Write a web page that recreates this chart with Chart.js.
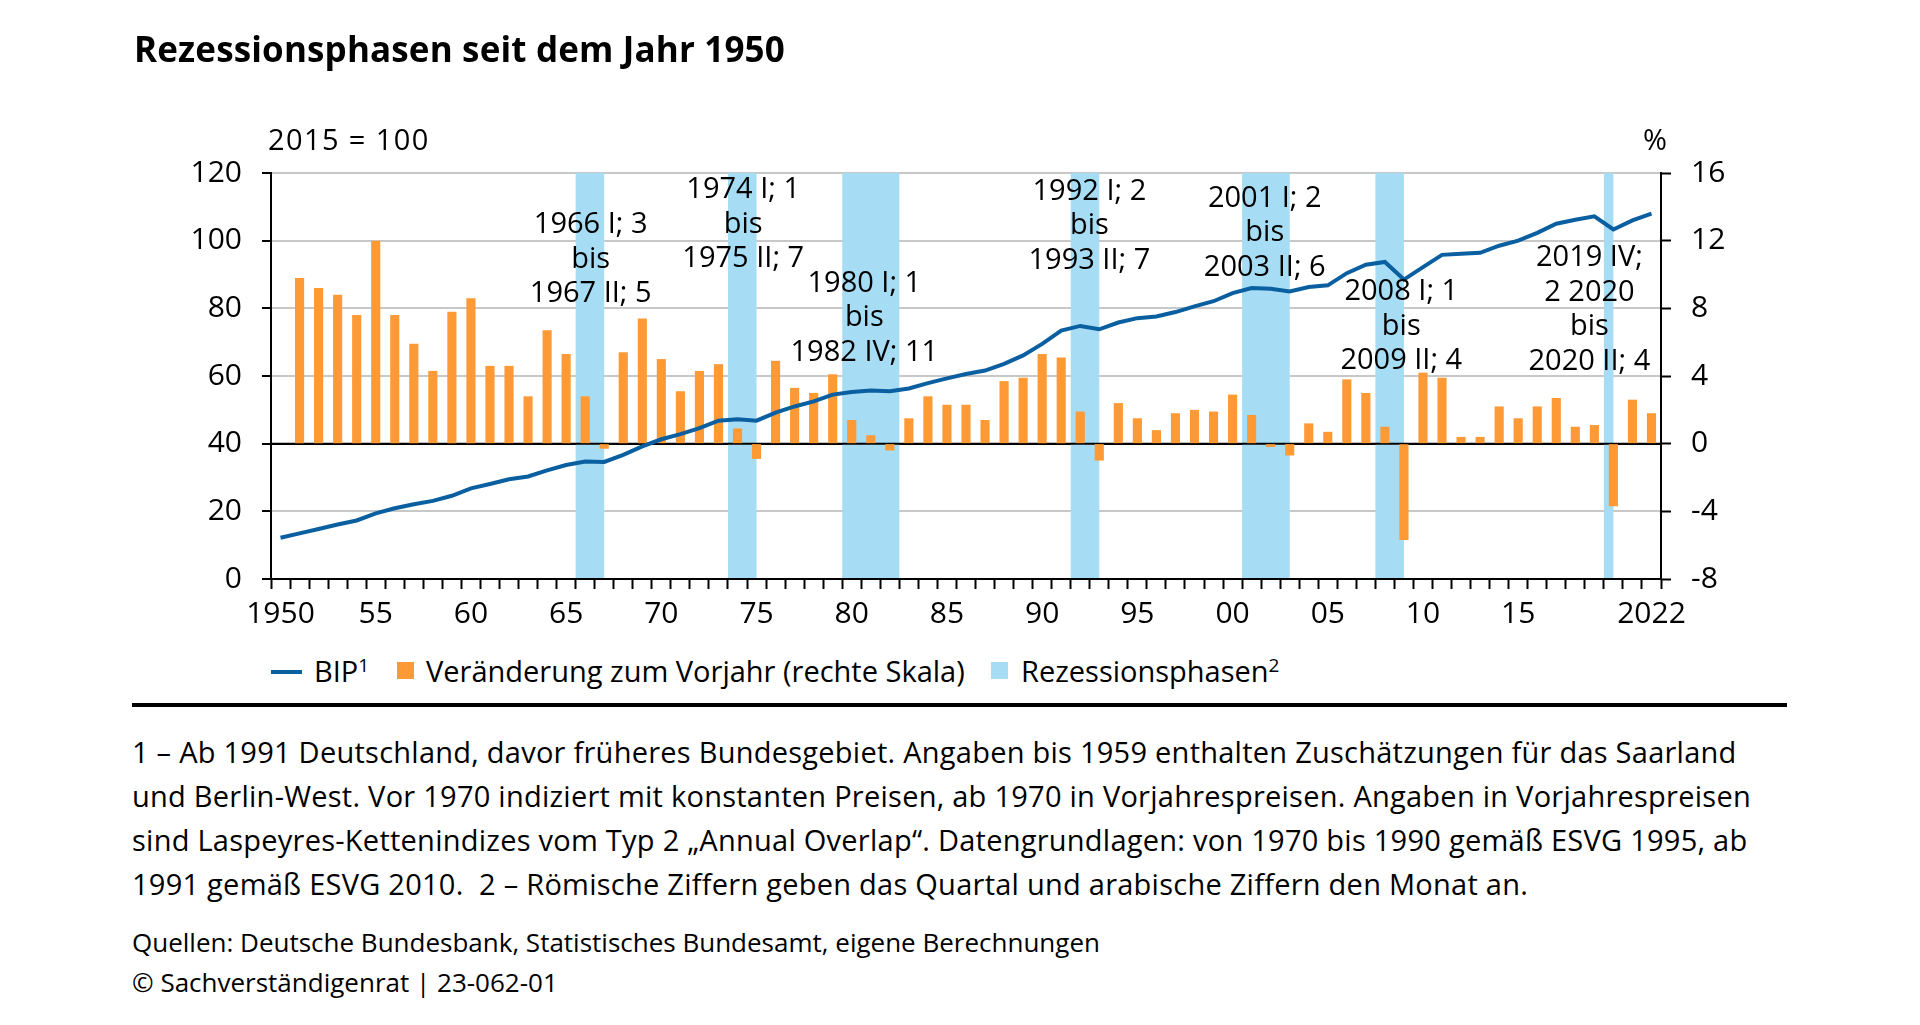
<!DOCTYPE html>
<html lang="de">
<head>
<meta charset="utf-8">
<title>Rezessionsphasen seit dem Jahr 1950</title>
<script src="https://cdn.jsdelivr.net/npm/chart.js@4.4.1/dist/chart.umd.min.js"></script>
<style>
  body { margin: 0; background: #fff; color: #000; font-family: "Open Sans", sans-serif; }
  #wrap { position: relative; width: 1920px; height: 1025px; overflow: hidden; }
  #chart { position: absolute; left: 0; top: 0; }
  .t { position: absolute; white-space: pre; line-height: 1; }
  #title { left: 134px; top: 31px; font-size: 35px; font-weight: bold; letter-spacing: 0.15px; }
  #unitL { left: 268px; top: 124px; font-size: 29px; letter-spacing: 1.4px; }
  #unitR { left: 1643px; top: 124px; font-size: 29px; }
  .lg { top: 656px; font-size: 29px; }
  .sup { font-size: 19px; position: relative; top: -10px; }
  .sw { position: absolute; }
  #rule { position: absolute; left: 132px; top: 703px; width: 1655px; height: 4px; background: #000; }
  #notes { left: 132px; top: 730px; font-size: 29px; line-height: 44px; letter-spacing: 0.25px; }
  #src { left: 132px; top: 922px; font-size: 26px; line-height: 40px; }
</style>
</head>
<body>
<div id="wrap">
  <canvas id="chart" width="1920" height="640"></canvas>
  <div class="t" id="title">Rezessionsphasen seit dem Jahr 1950</div>
  <div class="t" id="unitL">2015 = 100</div>
  <div class="t" id="unitR">%</div>

  <div class="sw" style="left:271px; top:670px; width:31px; height:4px; background:#0a5fa0"></div>
  <div class="t lg" style="left:314px">BIP<span class="sup">1</span></div>
  <div class="sw" style="left:397px; top:662px; width:17px; height:17px; background:#fd9a36"></div>
  <div class="t lg" style="left:426px">Veränderung zum Vorjahr (rechte Skala)</div>
  <div class="sw" style="left:991px; top:662px; width:17px; height:17px; background:#a6ddf5"></div>
  <div class="t lg" style="left:1021px">Rezessionsphasen<span class="sup">2</span></div>

  <div id="rule"></div>
  <div class="t" id="notes">1 – Ab 1991 Deutschland, davor früheres Bundesgebiet. Angaben bis 1959 enthalten Zuschätzungen für das Saarland
und Berlin-West. Vor 1970 indiziert mit konstanten Preisen, ab 1970 in Vorjahrespreisen. Angaben in Vorjahrespreisen
sind Laspeyres-Kettenindizes vom Typ 2 „Annual Overlap“. Datengrundlagen: von 1970 bis 1990 gemäß ESVG 1995, ab
1991 gemäß ESVG 2010.  2 – Römische Ziffern geben das Quartal und arabische Ziffern den Monat an.</div>
  <div class="t" id="src">Quellen: Deutsche Bundesbank, Statistisches Bundesamt, eigene Berechnungen
© Sachverständigenrat | 23-062-01</div>
</div>

<script>
// years on the x axis
const years = [
  1950, 1951, 1952, 1953, 1954, 1955, 1956, 1957, 1958, 1959,
  1960, 1961, 1962, 1963, 1964, 1965, 1966, 1967, 1968, 1969,
  1970, 1971, 1972, 1973, 1974, 1975, 1976, 1977, 1978, 1979,
  1980, 1981, 1982, 1983, 1984, 1985, 1986, 1987, 1988, 1989,
  1990, 1991, 1992, 1993, 1994, 1995, 1996, 1997, 1998, 1999,
  2000, 2001, 2002, 2003, 2004, 2005, 2006, 2007, 2008, 2009,
  2010, 2011, 2012, 2013, 2014, 2015, 2016, 2017, 2018, 2019,
  2020, 2021, 2022
];

// BIP, 2015 = 100 (left scale)
const bip = [
  12.2, 13.5, 14.8, 16.1, 17.3, 19.4, 20.9, 22.1, 23.1, 24.6,
  26.8, 28.1, 29.5, 30.3, 32.1, 33.7, 34.7, 34.6, 36.7, 39.2,
  41.3, 42.8, 44.6, 46.8, 47.2, 46.8, 49.2, 51.0, 52.5, 54.5,
  55.3, 55.7, 55.5, 56.3, 57.9, 59.3, 60.6, 61.6, 63.6, 66.1,
  69.5, 73.4, 74.8, 73.8, 75.8, 77.1, 77.6, 78.9, 80.6, 82.1,
  84.5, 86.0, 85.8, 85.0, 86.3, 86.8, 90.4, 92.9, 93.7, 88.5,
  92.2, 95.8, 96.1, 96.4, 98.5, 100.0, 102.3, 105.0, 106.2, 107.2,
  103.3, 106.0, 108.0
];

// Veränderung zum Vorjahr in % (right scale)
const change = [
  null, 9.8, 9.2, 8.8, 7.6, 12.0, 7.6, 5.9, 4.3, 7.8,
  8.6, 4.6, 4.6, 2.8, 6.7, 5.3, 2.8, -0.3, 5.4, 7.4,
  5.0, 3.1, 4.3, 4.7, 0.9, -0.9, 4.9, 3.3, 3.0, 4.1,
  1.4, 0.5, -0.4, 1.5, 2.8, 2.3, 2.3, 1.4, 3.7, 3.9,
  5.3, 5.1, 1.9, -1.0, 2.4, 1.5, 0.8, 1.8, 2.0, 1.9,
  2.9, 1.7, -0.2, -0.7, 1.2, 0.7, 3.8, 3.0, 1.0, -5.7,
  4.2, 3.9, 0.4, 0.4, 2.2, 1.5, 2.2, 2.7, 1.0, 1.1,
  -3.7, 2.6, 1.8
];

// recession phases, start and end as fractional years
const recStart = [1966.0, 1974.0, 1980.0, 1992.0, 2001.0, 2008.0, 2020.0];
const recEnd   = [1967.5, 1975.5, 1983.0, 1993.5, 2003.5, 2009.5, 2020.5];
const recLabels = [
  ['1966 I; 3', 'bis', '1967 II; 5'],
  ['1974 I; 1', 'bis', '1975 II; 7'],
  ['1980 I; 1', 'bis', '1982 IV; 11'],
  ['1992 I; 2', 'bis', '1993 II; 7'],
  ['2001 I; 2', 'bis', '2003 II; 6'],
  ['2008 I; 1', 'bis', '2009 II; 4'],
  ['2019 IV;', '2 2020', 'bis', '2020 II; 4']
];

// tick labels
const tickYears = [1950, 1955, 1960, 1965, 1970, 1975, 1980, 1985, 1990, 1995, 2000, 2005, 2010, 2015, 2022];
const tickTexts = ['1950', '55', '60', '65', '70', '75', '80', '85', '90', '95', '00', '05', '10', '15', '2022'];

// where the label blocks sit: [year of centre, left-scale value of first line]
const labelPos = [
  [1966.79, 104.6], [1974.8, 115.0], [1981.16, 87.4], [1992.98, 114.5],
  [2002.19, 112.5], [2009.36, 84.9], [2019.24, 94.9]
];

const FONT = '"Open Sans", sans-serif';
const BLUE = '#0a5fa0';
const ORANGE = '#fd9a36';
const BAND = '#a6ddf5';
const GRID = '#c8c8c8';

const yearToPx = (x, yr) => {
  const step = x.getPixelForValue(1) - x.getPixelForValue(0);
  return x.getPixelForValue(0) + (yr - 1950 - 0.5) * step;
};

const recessionPlugin = {
  id: 'recessions',
  beforeDatasetsDraw(chart) {
    const { ctx, chartArea: a, scales } = chart;
    ctx.save();
    ctx.fillStyle = BAND;
    recStart.forEach((s, i) => {
      const l = yearToPx(scales.x, s);
      const r = yearToPx(scales.x, recEnd[i]);
      ctx.fillRect(l, a.top, r - l, a.bottom - a.top - 1);
    });
    // zero line of the right scale
    const y0 = scales.y2.getPixelForValue(0);
    ctx.strokeStyle = '#000';
    ctx.lineWidth = 2;
    ctx.beginPath();
    ctx.moveTo(a.left, y0);
    ctx.lineTo(a.right, y0);
    ctx.stroke();
    ctx.restore();
  },
  afterDatasetsDraw(chart) {
    const { ctx, scales } = chart;
    ctx.save();
    ctx.font = '29px ' + FONT;
    ctx.fillStyle = '#000';
    ctx.textAlign = 'center';
    ctx.textBaseline = 'middle';
    recLabels.forEach((lines, i) => {
      const cx = yearToPx(scales.x, labelPos[i][0]);
      const cy = scales.y.getPixelForValue(labelPos[i][1]);
      lines.forEach((s, k) => ctx.fillText(s, cx, cy + k * 34.5));
    });
    ctx.restore();
  }
};

const tickFont = { family: FONT, size: 30 };

new Chart(document.getElementById('chart'), {
  type: 'bar',
  data: {
    labels: years,
    datasets: [
      {
        type: 'line',
        label: 'BIP',
        data: bip,
        yAxisID: 'y',
        borderColor: BLUE,
        borderWidth: 4,
        pointRadius: 0,
        tension: 0,
        order: 0
      },
      {
        type: 'bar',
        label: 'Veränderung zum Vorjahr (rechte Skala)',
        data: change,
        yAxisID: 'y2',
        backgroundColor: ORANGE,
        barPercentage: 0.48,
        categoryPercentage: 1,
        order: 1
      }
    ]
  },
  options: {
    responsive: false,
    animation: false,
    devicePixelRatio: 1,
    layout: { padding: { top: 173, left: 0, right: 0, bottom: 0 } },
    plugins: { legend: { display: false }, tooltip: { enabled: false } },
    scales: {
      x: {
        offset: true,
        grid: { offset: true, drawOnChartArea: false, drawTicks: true, tickLength: 10, tickColor: '#000', tickWidth: 2 },
        border: { color: '#000', width: 2 },
        ticks: {
          autoSkip: false, maxRotation: 0, minRotation: 0, padding: 7, color: '#000', font: tickFont,
          callback: (v, i) => {
            const k = tickYears.indexOf(years[i]);
            return k >= 0 ? tickTexts[k] : '';
          }
        },
        afterFit: s => { s.height = 61; }
      },
      y: {
        position: 'left',
        min: 0, max: 120,
        ticks: { stepSize: 20, padding: 20, color: '#000', font: tickFont },
        grid: {
          color: c => (c.tick.value === 0 || c.tick.value === 40) ? '#000' : GRID,
          lineWidth: 2, tickLength: 9, tickColor: '#000', tickWidth: 2
        },
        border: { color: '#000', width: 2 },
        afterFit: s => { s.width = 271; }
      },
      y2: {
        position: 'right',
        min: -8, max: 16,
        ticks: { stepSize: 4, padding: 20, color: '#000', font: tickFont },
        grid: { drawOnChartArea: false, tickLength: 10, tickColor: '#000', tickWidth: 2 },
        border: { color: '#000', width: 2 },
        afterFit: s => { s.width = 259; }
      }
    }
  },
  plugins: [recessionPlugin]
});
</script>
</body>
</html>
